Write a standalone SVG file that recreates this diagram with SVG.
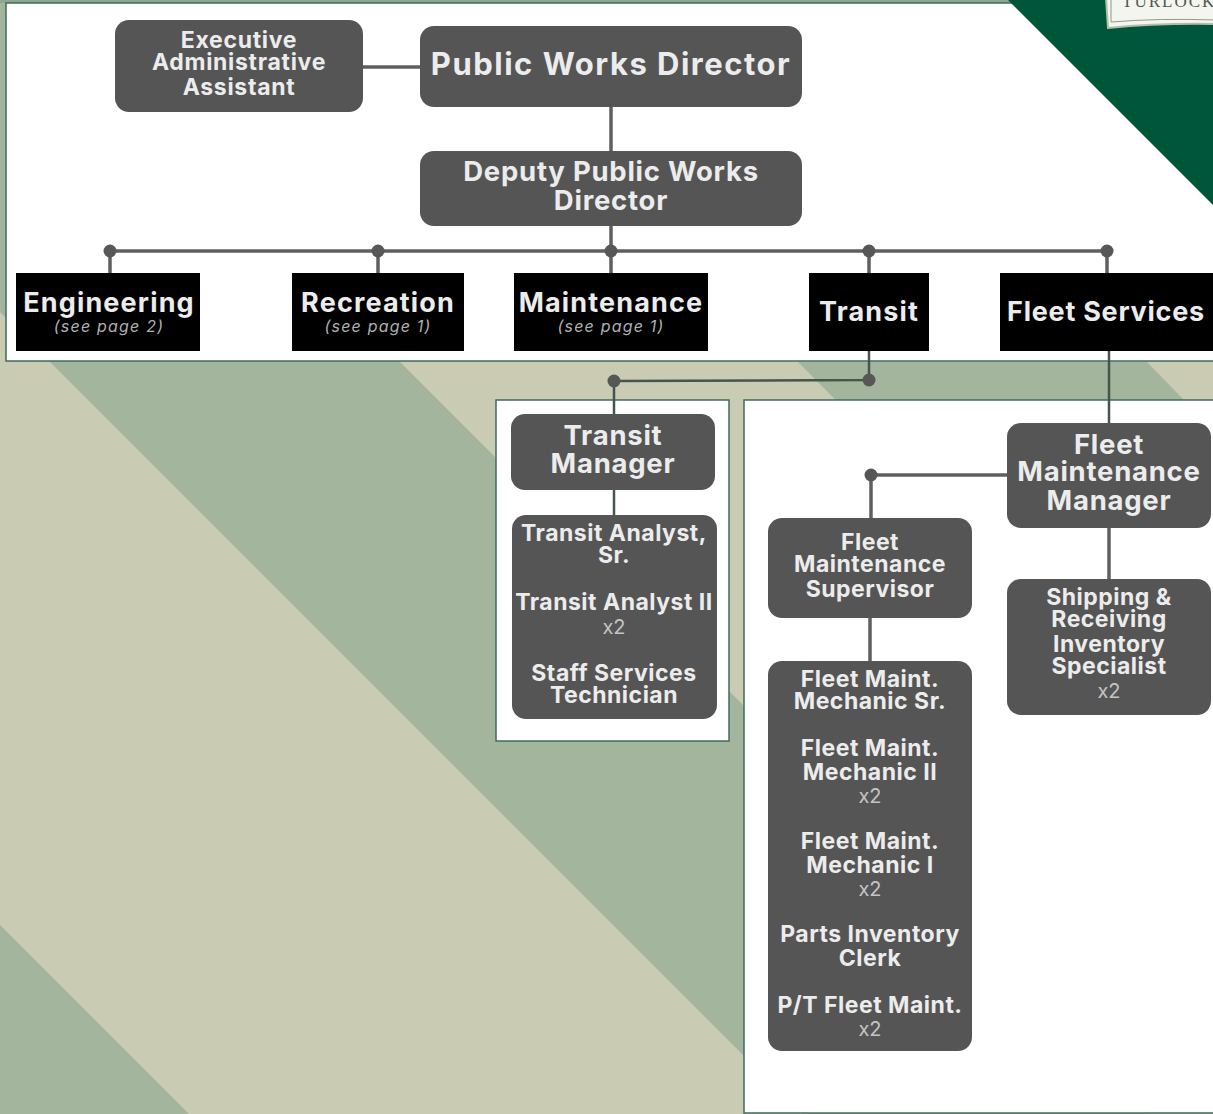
<svg xmlns="http://www.w3.org/2000/svg" width="1213" height="1114" viewBox="0 0 1213 1114">
<style>
.n{fill:#555}
.b{fill:#000}
.t{font-family:Inter,"Liberation Sans",sans-serif;font-weight:700;fill:#ececec;text-anchor:middle}
.f23{font-size:23px;letter-spacing:.5px}
.f27{font-size:27.5px;letter-spacing:.75px}
.h{font-size:27px;letter-spacing:1.15px}
.s{font-family:Inter,"Liberation Sans",sans-serif;font-weight:400;font-style:italic;font-size:16px;letter-spacing:1.2px;fill:#b0b0b0;text-anchor:middle}
.x{font-family:Inter,"Liberation Sans",sans-serif;font-weight:400;font-size:20px;fill:#c4c4c4;text-anchor:middle}
.c{stroke:#5f5f5f;stroke-width:3.5;fill:none}
.g{stroke:#45564c;stroke-width:2.5;fill:none}
.p{fill:#fff;stroke:#3f6b5c;stroke-width:1.5}
.d{fill:#575757}
</style>
<rect width="1213" height="1114" fill="#c9cbb3"/>
<g fill="#a3b59c">
<polygon points="0,925 189,1114 0,1114"/>
<polygon points="0,0 38,0 400,362 1152,1114 802,1114 50,362 0,312"/>
<polygon points="798,362 1147,362 1213,430 1213,780"/>
<rect width="1010" height="3" fill="#8fa58f"/>
</g>
<rect class="p" x="6" y="3" width="1220" height="358"/>
<rect class="p" x="496" y="400" width="233" height="341"/>
<rect class="p" x="744" y="400" width="480" height="713"/>
<polygon points="1008,0 1213,0 1213,205" fill="#00563b"/>
<path d="M1106 -2H1215V24Q1160 23 1108 28Z" fill="#f4f5ef" stroke="#b4bcab" stroke-width="2"/>
<path d="M1111 -2V22Q1160 18 1215 20" fill="none" stroke="#8f9a8c" stroke-width="1"/>
<text x="1122" y="7" font-family="'Liberation Serif',serif" font-size="17" letter-spacing="2" fill="#4a5a50">TURLOCK</text>
<g id="connectors">
<path class="c" d="M363 67H420M611 107V151M611 226V250M110 251H1107M110 251V273M378 251V273M611 251V273M869 251V273M1107 251V273M1007 475H871V518M1109 528V579M870 618V661"/>
<path class="g" d="M869 351V380M614 381L869 380M614 381V414M1109 351V423M614 490V515"/>
<circle class="d" cx="110" cy="251" r="6.5"/><circle class="d" cx="378" cy="251" r="6.5"/><circle class="d" cx="611" cy="251" r="6.5"/><circle class="d" cx="869" cy="251" r="6.5"/><circle class="d" cx="1107" cy="251" r="6.5"/><circle class="d" cx="869" cy="380" r="6.5"/><circle class="d" cx="614" cy="381" r="6.5"/><circle class="d" cx="871" cy="475" r="6.5"/>
</g>
<g id="exec"><rect class="n" x="115" y="20" width="248" height="92" rx="14"/><text class="t f23" style="letter-spacing:.7px"><tspan x="239" y="48">Executive</tspan><tspan x="239" y="70">Administrative</tspan><tspan x="239" y="95">Assistant</tspan></text></g>
<g id="director"><rect class="n" x="420" y="26" width="382" height="81" rx="14"/><text class="t" font-size="31" letter-spacing="1.5" x="611" y="75">Public Works Director</text></g>
<g id="deputy"><rect class="n" x="420" y="151" width="382" height="75" rx="14"/><text class="t f27"><tspan x="611" y="181">Deputy Public Works</tspan><tspan x="611" y="210">Director</tspan></text></g>
<g id="engineering"><rect class="b" x="16" y="273" width="184" height="78"/><text class="t h" x="109" y="312">Engineering</text><text class="s" x="109" y="332">(see page 2)</text></g>
<g id="recreation"><rect class="b" x="292" y="273" width="172" height="78"/><text class="t h" x="378" y="312">Recreation</text><text class="s" x="378" y="332">(see page 1)</text></g>
<g id="maintenance"><rect class="b" x="514" y="273" width="194" height="78"/><text class="t h" x="611" y="312">Maintenance</text><text class="s" x="611" y="332">(see page 1)</text></g>
<g id="transit"><rect class="b" x="809" y="273" width="120" height="78"/><text class="t h" x="869" y="321">Transit</text></g>
<g id="fleet"><rect class="b" x="1000" y="273" width="213" height="78"/><text class="t h" style="letter-spacing:.75px" x="1106" y="321">Fleet Services</text></g>
<g id="transit-manager"><rect class="n" x="511" y="414" width="204" height="76" rx="14"/><text class="t f27"><tspan x="613" y="445">Transit</tspan><tspan x="613" y="473">Manager</tspan></text></g>
<g id="transit-staff"><rect class="n" x="512" y="515" width="205" height="204" rx="14"/><text class="t f23"><tspan x="614" y="541">Transit Analyst,</tspan><tspan x="614" y="563">Sr.</tspan><tspan x="614" y="610">Transit Analyst II</tspan><tspan x="614" y="681">Staff Services</tspan><tspan x="614" y="703">Technician</tspan></text><text class="x" x="614" y="634">x2</text></g>
<g id="fleet-manager"><rect class="n" x="1007" y="423" width="204" height="105" rx="14"/><text class="t f27"><tspan x="1109" y="454">Fleet</tspan><tspan x="1109" y="481">Maintenance</tspan><tspan x="1109" y="510">Manager</tspan></text></g>
<g id="fleet-supervisor"><rect class="n" x="768" y="518" width="204" height="100" rx="14"/><text class="t f23"><tspan x="870" y="550">Fleet</tspan><tspan x="870" y="572">Maintenance</tspan><tspan x="870" y="597">Supervisor</tspan></text></g>
<g id="shipping"><rect class="n" x="1007" y="579" width="204" height="136" rx="14"/><text class="t f23"><tspan x="1109" y="605">Shipping &amp;</tspan><tspan x="1109" y="627">Receiving</tspan><tspan x="1109" y="652">Inventory</tspan><tspan x="1109" y="674">Specialist</tspan></text><text class="x" x="1109" y="698">x2</text></g>
<g id="fleet-staff"><rect class="n" x="768" y="661" width="204" height="390" rx="14"/><text class="t f23"><tspan x="870" y="687">Fleet Maint.</tspan><tspan x="870" y="709">Mechanic Sr.</tspan><tspan x="870" y="756">Fleet Maint.</tspan><tspan x="870" y="780">Mechanic II</tspan><tspan x="870" y="849">Fleet Maint.</tspan><tspan x="870" y="873">Mechanic I</tspan><tspan x="870" y="942">Parts Inventory</tspan><tspan x="870" y="966">Clerk</tspan><tspan x="870" y="1013">P/T Fleet Maint.</tspan></text><text class="x" x="870" y="803">x2</text><text class="x" x="870" y="896">x2</text><text class="x" x="870" y="1036">x2</text></g>
</svg>
